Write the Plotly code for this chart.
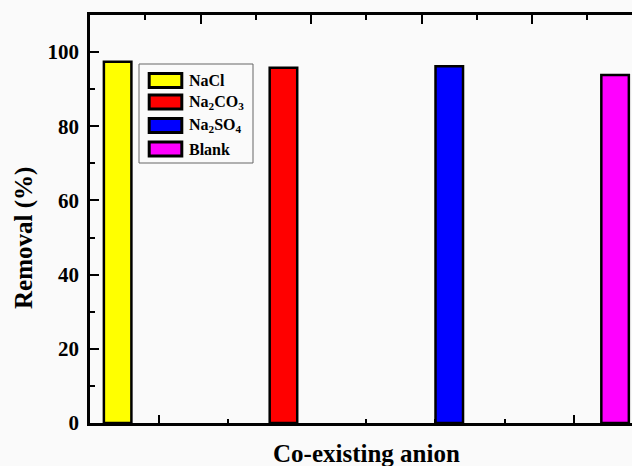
import plotly.graph_objects as go

# Series: co-existing anion and removal efficiency (%)
anions = ["NaCl", "Na<sub>2</sub>CO<sub>3</sub>", "Na<sub>2</sub>SO<sub>4</sub>", "Blank"]
removal = [97.4, 95.8, 96.2, 93.8]
bar_colors = ["#ffff00", "#ff0000", "#0000ff", "#ff00ff"]
positions = [1, 2, 3, 4]

# Axis ticks
y_major = [0, 20, 40, 60, 80, 100]
bottom_major = [1.25, 3.75]
bottom_minor = [1.6667, 2.0833, 2.5, 2.9167, 3.3333]
top_major = [1.5, 2.1667, 2.8333, 3.5]
top_minor = [1.1667, 1.8333, 2.5, 3.1667, 3.8333]

W, H = 632, 466
L, R, T, B = 90, 0, 15, 43
FONT = "Liberation Serif, Times New Roman, serif"

def px_x(p):
    return (p - L) / (W - L - R)

def px_y(p):
    return (H - B - p) / (H - T - B)

fig = go.Figure()
for x, v, c, name in zip(positions, removal, bar_colors, anions):
    fig.add_trace(go.Bar(
        x=[x], y=[v], name=name, width=0.166,
        marker=dict(color=c, line=dict(color="black", width=2.5)),
        showlegend=False,
    ))

# Empty trace so the mirrored top axis is rendered
fig.add_trace(go.Scatter(x=[], y=[], xaxis="x2", yaxis="y", mode="markers",
                         showlegend=False, hoverinfo="skip"))

# Legend drawn as a framed box with swatches
shapes = [dict(type="rect", xref="paper", yref="paper",
               x0=px_x(139), x1=px_x(253), y0=px_y(163), y1=px_y(64),
               line=dict(color="#666666", width=1), fillcolor="rgba(0,0,0,0)", layer="above")]
annotations = []
row_centers = [80.5, 102, 125.5, 149]
for yc, name, c in zip(row_centers, anions, bar_colors):
    shapes.append(dict(type="rect", xref="paper", yref="paper",
                       x0=px_x(149.2), x1=px_x(181.8), y0=px_y(yc + 7), y1=px_y(yc - 7),
                       line=dict(color="black", width=3), fillcolor=c, layer="above"))
    annotations.append(dict(x=px_x(187), y=px_y(yc), xref="paper", yref="paper",
                            text=name, showarrow=False, xanchor="left", yanchor="middle",
                            font=dict(family=FONT, size=16, color="black", weight="bold")))

annotations.append(dict(x=px_x(24), y=px_y(238), xref="paper", yref="paper",
                        text="Removal (%)", textangle=-90, showarrow=False,
                        xanchor="center", yanchor="middle",
                        font=dict(family=FONT, size=25, color="black", weight="bold")))
annotations.append(dict(x=px_x(366), y=px_y(453), xref="paper", yref="paper",
                        text="Co-existing anion", showarrow=False,
                        xanchor="center", yanchor="middle",
                        font=dict(family=FONT, size=25, color="black", weight="bold")))

xrange = [0.8333, 4.102]
fig.update_layout(
    width=W, height=H, autosize=False,
    margin=dict(l=L, r=R, t=T, b=B, pad=0),
    paper_bgcolor="#fafafa", plot_bgcolor="#fafafa",
    shapes=shapes, annotations=annotations,
    xaxis=dict(range=xrange, showgrid=False, zeroline=False,
               showline=True, linecolor="black", linewidth=2.5,
               ticks="inside", tickvals=bottom_major, ticklen=8, tickwidth=2, tickcolor="black",
               showticklabels=False,
               minor=dict(tickvals=bottom_minor, ticks="inside", ticklen=4, tickwidth=2, tickcolor="black")),
    xaxis2=dict(range=xrange, overlaying="x", side="top", showgrid=False, zeroline=False,
                showline=True, linecolor="black", linewidth=2.5,
                ticks="inside", tickvals=top_major, ticklen=9, tickwidth=2, tickcolor="black",
                showticklabels=False,
                minor=dict(tickvals=top_minor, ticks="inside", ticklen=5, tickwidth=2, tickcolor="black")),
    yaxis=dict(range=[0, 110], showgrid=False, zeroline=False,
               showline=True, linecolor="black", linewidth=2.5,
               ticks="inside", tickvals=y_major, ticklen=9, tickwidth=2, tickcolor="black",
               tickfont=dict(family=FONT, size=21, color="black", weight="bold"),
               ticklabelstandoff=4,
               minor=dict(tickmode="linear", tick0=0, dtick=10, ticks="inside", ticklen=5,
                          tickwidth=2, tickcolor="black")),
)

fig.write_html("out.html")
